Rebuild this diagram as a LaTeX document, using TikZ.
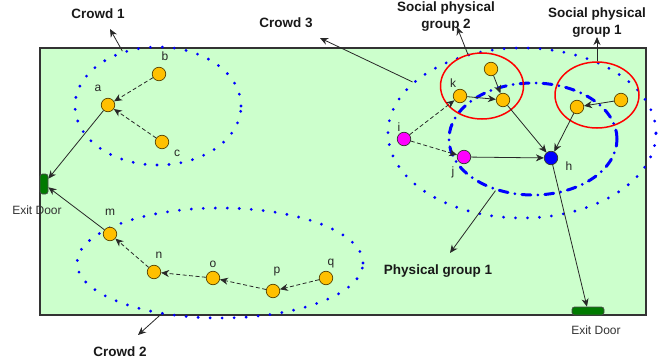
\documentclass[tikz,border=0pt]{standalone}
\usepackage{fontspec}
\setmainfont{Liberation Sans}
\usetikzlibrary{shapes.geometric,arrows.meta}
\definecolor{bggreen}{RGB}{204,255,204}
\definecolor{pers}{RGB}{255,192,0}
\definecolor{persline}{RGB}{90,70,0}
\definecolor{doorgreen}{RGB}{0,122,0}
\definecolor{linegray}{RGB}{40,40,40}
\definecolor{dotblue}{RGB}{0,0,255}
\definecolor{pinkfill}{RGB}{255,0,255}
\definecolor{hubblue}{RGB}{0,0,255}
\begin{document}
\begin{tikzpicture}[x=1pt,y=-1pt,
  person/.style={circle,draw=persline,line width=0.7pt,fill=pers,minimum size=13.5pt,inner sep=0pt},
  pink/.style={person,fill=pinkfill,draw=black!80},
  hub/.style={person,fill=hubblue,draw=black!80},
  door/.style={rectangle,rounded corners=2.5pt,draw=black!70,line width=0.7pt,fill=doorgreen,inner sep=0pt},
  crowdring/.style={ellipse,draw=dotblue,line width=3.1pt,line cap=round,dash pattern=on 0pt off 12pt,inner sep=0pt},
  physring/.style={ellipse,draw=dotblue,line width=3pt,line cap=round,dash pattern=on 9pt off 7pt on 0pt off 7pt,inner sep=0pt},
  socring/.style={ellipse,draw=red,line width=1.5pt,inner sep=0pt},
  arr/.style={draw=linegray,line width=0.8pt,-{Stealth[length=8pt,width=7pt,inset=2.5pt]}},
  darr/.style={arr,dash pattern=on 4pt off 2.5pt},
  big/.style={font=\fontsize{13.5pt}{17pt}\selectfont\bfseries,text=black!90,align=center,inner sep=0pt},
  small/.style={font=\fontsize{12pt}{14pt}\selectfont,text=black!85,inner sep=0pt},
  exitlbl/.style={font=\fontsize{12pt}{14pt}\selectfont,text=black!80,inner sep=0pt}]
\useasboundingbox (0,0) rectangle (662,364);
\fill[white] (0,0) rectangle (662,364);
% room
\draw[line width=1.2pt,draw=black!80,fill=bggreen] (40,48) rectangle (646,315);
% group rings
\node[crowdring,minimum width=166pt,minimum height=118pt] (crowd1) at (158,106) {};
\node[crowdring,minimum width=286pt,minimum height=110pt] (crowd2) at (220,263) {};
\node[crowdring,minimum width=268pt,minimum height=170pt] (crowd3) at (522,133) {};
\node[physring,minimum width=168pt,minimum height=112pt] (phys1) at (533,139) {};
\node[socring,minimum width=83pt,minimum height=66pt] (soc2) at (482,86) {};
\node[socring,minimum width=84pt,minimum height=66pt] (soc1) at (597,95) {};
% doors
\node[door,minimum width=8pt,minimum height=20pt] (ldoor) at (44,184) {};
\node[door,minimum width=32pt,minimum height=8pt] (bdoor) at (588,311) {};
\node[exitlbl] (ldoorlbl) at (37,210) {Exit Door};
\node[exitlbl] (bdoorlbl) at (596,330) {Exit Door};
% people
\node[person] (a) at (108,105) {};
\node[person] (b) at (159,74) {};
\node[person] (c) at (162,142) {};
\node[person] (m) at (110,234) {};
\node[person] (n) at (154,272) {};
\node[person] (o) at (213,278) {};
\node[person] (p) at (273,291) {};
\node[person] (q) at (326,278) {};
\node[person] (k) at (460,96) {};
\node[person] (g2top) at (491,69) {};
\node[person] (g2right) at (503,100) {};
\node[person] (g1left) at (577,107) {};
\node[person] (g1right) at (621,100) {};
\node[pink] (i) at (404,139) {};
\node[pink] (j) at (464,157) {};
\node[hub] (h) at (551,158) {};
% letters
\node[small] (la) at (98,88) {a};
\node[small] (lb) at (165,56) {b};
\node[small] (lc) at (177,153) {c};
\node[small] (lm) at (110,212) {m};
\node[small] (ln) at (159,255) {n};
\node[small] (lo) at (213,264) {o};
\node[small] (lp) at (277,272) {p};
\node[small] (lq) at (331,264) {q};
\node[small] (lk) at (453,83) {k};
\node[small] (li) at (399,127) {i};
\node[small] (lj) at (453,172) {j};
\node[small] (lh) at (569,166) {h};
% titles
\node[big] (t1) at (98,14) {Crowd 1};
\node[big] (t3) at (286,23) {Crowd 3};
\node[big] (t2) at (120,352) {Crowd 2};
\node[big] (ts2) at (446,17) {Social physical\\group 2};
\node[big] (ts1) at (597,23) {Social physical\\group 1};
\node[big] (tp1) at (438,271) {Physical group 1};
% tips of title arrows
\coordinate (t1tip) at (110,29);
\coordinate (t3tip) at (320,38);
\coordinate (t2tip) at (138,335);
\coordinate (ts2tip) at (457,27);
\coordinate (ts1tip) at (597,37);
\coordinate (tp1tip) at (450,253);
% title arrows
\draw[arr] (crowd1.123) -- (t1tip);
\draw[arr] (crowd3.155) -- (t3tip);
\draw[arr] (crowd2.221) -- (t2tip);
\draw[arr] (soc2.114) -- (ts2tip);
\draw[arr] (soc1.90) -- (ts1tip);
\draw[arr] (phys1.234) -- (tp1tip);
% movement
\draw[darr] (b) -- (a);
\draw[darr] (c) -- (a);
\draw[arr] (a) -- (ldoor);
\draw[darr] (q) -- (p);
\draw[darr] (p) -- (o);
\draw[darr] (o) -- (n);
\draw[darr] (n) -- (m);
\draw[arr] (m) -- (ldoor);
\draw[darr] (i) -- (k);
\draw[darr] (i) -- (j);
\draw[arr] (k) -- (g2right);
\draw[arr] (g2top) -- (g2right);
\draw[arr] (g1right) -- (g1left);
\draw[arr] (g2right) -- (h);
\draw[arr] (g1left) -- (h);
\draw[arr] (j) -- (h);
\draw[arr] (h) -- (bdoor);
\end{tikzpicture}
\end{document}
